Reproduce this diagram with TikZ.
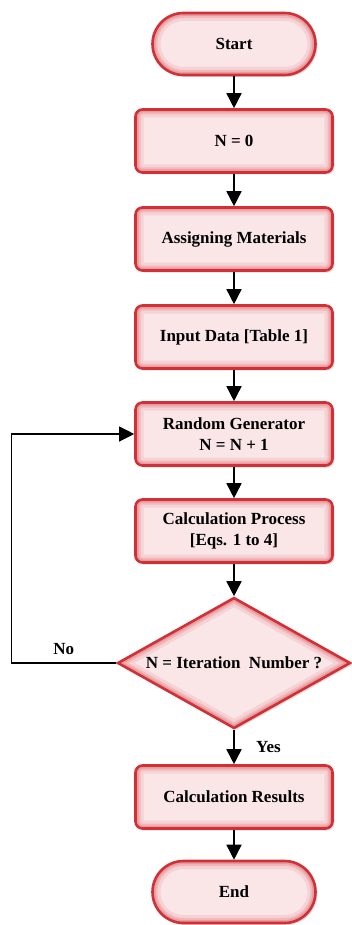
\documentclass[tikz,border=0pt]{standalone}
\usepackage{fontspec}
\setmainfont{Liberation Serif}
\usetikzlibrary{shapes.geometric,shadows,arrows.meta}
\definecolor{boxred}{RGB}{208,48,54}
\definecolor{boxpink}{RGB}{250,229,231}
\newcommand{\glowbox}[1]{%
  \foreach \w/\o in {16/0.10,10/0.15,6/0.22}
    \draw[boxred,opacity=\o,line width=\w pt,rounded corners=#1]
      (path picture bounding box.south west) rectangle (path picture bounding box.north east);}
\newcommand{\glowdiamond}{%
  \foreach \w/\o in {16/0.10,10/0.15,6/0.22}
    \draw[boxred,opacity=\o,line width=\w pt,line join=miter]
      (path picture bounding box.west) -- (path picture bounding box.north)
      -- (path picture bounding box.east) -- (path picture bounding box.south) -- cycle;}
\begin{document}
\begin{tikzpicture}[x=1pt,y=-1pt,
        every node/.style={font=\bfseries\fontsize{17}{21}\selectfont},
        base/.style={draw=boxred,line width=2.6pt,fill=boxpink,align=center,inner sep=0pt,
            drop shadow={shadow xshift=2pt,shadow yshift=-2pt,opacity=0.25}},
        proc/.style={base,rectangle,rounded corners=7pt,minimum width=197pt,minimum height=63pt,
            path picture={\glowbox{7pt}}},
        term/.style={base,rectangle,rounded corners=31pt,minimum width=163pt,minimum height=62pt,
            path picture={\glowbox{31pt}}},
        dec/.style={base,diamond,aspect=1.8,minimum width=233pt,minimum height=131pt,
            path picture={\glowdiamond}},
        arr/.style={-{Triangle[width=15pt,length=15pt]},line width=1.6pt}]
        \useasboundingbox (0,0) rectangle (351,925);

        \node[term] at (234,44)  (s)  {Start};
        \node[proc] at (234,141) (n)  {N = 0};
        \node[proc] at (234,239) (am) {Assigning Materials};
        \node[proc] at (234,337) (id) {Input Data [Table 1]};
        \node[proc] at (234,434) (rg) {Random Generator\\N = N + 1};
        \node[proc] at (234,531) (cp) {Calculation Process\\ {[Eqs. 1 to 4]}};
        \node[dec]  at (234,663) (d)  {N = Iteration\ \ Number ?};
        \node[proc] at (234,797) (cr) {Calculation Results};
        \node[term] at (234,892) (e)  {End};

        \draw[arr] (s) -- (n);
        \draw[arr] (n) -- (am);
        \draw[arr] (am) -- (id);
        \draw[arr] (id) -- (rg);
        \draw[arr] (rg) -- (cp);
        \draw[arr] (cp) -- (d);
        \draw[arr] (d) -- (cr) node[midway,right=18pt] {Yes};
        \draw[arr] (cr) -- (e);
        \draw[arr,line width=1.2pt] (d.west) -- ++(-105,0) node[midway,above=4pt] {No} |- (rg.west);
    \end{tikzpicture}
\end{document}
